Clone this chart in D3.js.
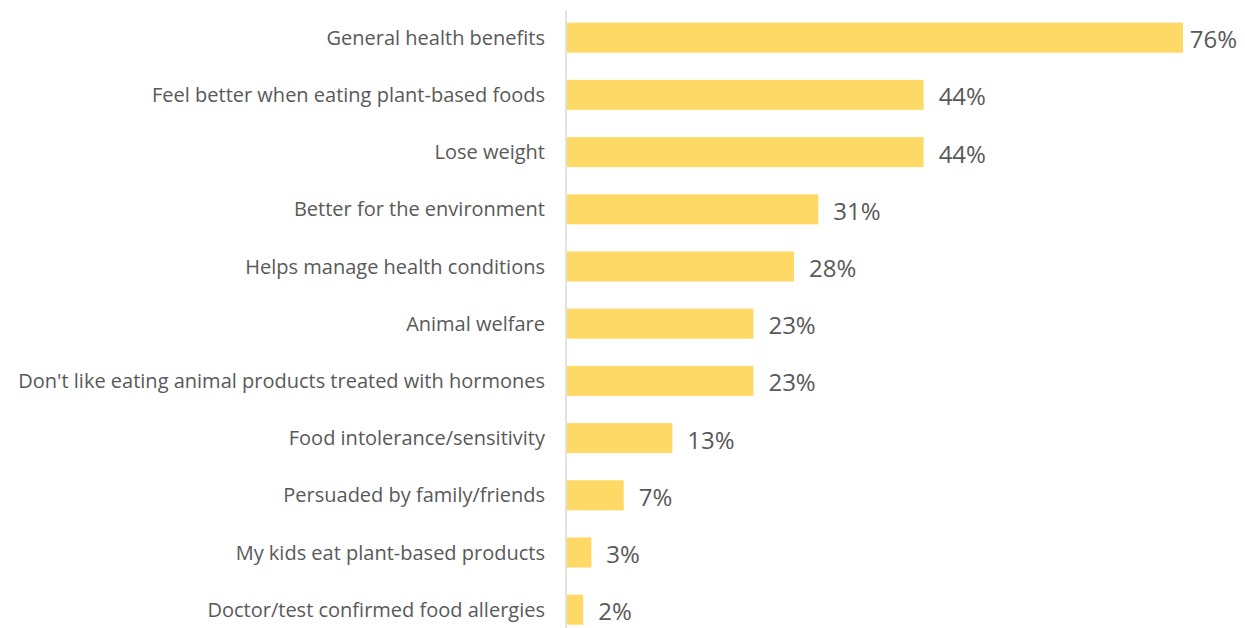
<!doctype html>
<html>
<head>
	<meta charset="UTF-8">
	<script src="https://d3js.org/d3.v7.min.js"></script>
	<style>
		body { margin: 0; background: #fff; }
	</style>
</head>
<body>
	<script>
		// reasons for eating plant-based foods
		var reasons = [
			"General health benefits",
			"Feel better when eating plant-based foods",
			"Lose weight",
			"Better for the environment",
			"Helps manage health conditions",
			"Animal welfare",
			"Don't like eating animal products treated with hormones",
			"Food intolerance/sensitivity",
			"Persuaded by family/friends",
			"My kids eat plant-based products",
			"Doctor/test confirmed food allergies"
		];
		var shares = [76, 44, 44, 31, 28, 23, 23, 13, 7, 3, 2];

		var width = 1245, height = 628;
		var axisX = 566;

		var svg = d3.select("body")
					.append("svg")
						.attr("width", width)
						.attr("height", height);

		var x = d3.scaleLinear()
					.domain([0, 76])
					.range([axisX + 1, 1183]);

		var y = d3.scaleBand()
					.domain(reasons)
					.range([9.1, 638.3])
					.paddingInner(0.475)
					.paddingOuter(0.2375);

		// bars
		svg.selectAll("rect.bar")
			.data(shares)
			.enter()
			.append("rect")
				.attr("class", "bar")
				.attr("x", x(0))
				.attr("y", function(d, i) { return y(reasons[i]); })
				.attr("width", function(d) { return x(d) - x(0); })
				.attr("height", y.bandwidth())
				.attr("fill", "#ffd966");

		// vertical axis line
		svg.append("line")
			.attr("x1", axisX)
			.attr("x2", axisX)
			.attr("y1", 10)
			.attr("y2", height)
			.attr("stroke", "#d9d9d9")
			.attr("stroke-width", 1.5);

		// category labels
		svg.selectAll("text.cat")
			.data(reasons)
			.enter()
			.append("text")
				.attr("class", "cat")
				.attr("x", 545)
				.attr("y", function(d) { return y(d) + y.bandwidth() / 2; })
				.attr("dy", "0.35em")
				.attr("text-anchor", "end")
				.attr("font-family", "Open Sans, sans-serif")
				.attr("font-size", 20)
				.attr("fill", "#595959")
				.text(function(d) { return d; });

		// value labels, pulled back in if they would run off the right edge
		svg.selectAll("text.val")
			.data(shares)
			.enter()
			.append("text")
				.attr("class", "val")
				.attr("y", function(d, i) { return y(reasons[i]) + y.bandwidth() / 2 + 2; })
				.attr("dy", "0.35em")
				.attr("font-family", "Open Sans, sans-serif")
				.attr("font-size", 24)
				.attr("fill", "#595959")
				.text(function(d) { return d + "%"; })
				.attr("x", function(d) {
					var w = this.getComputedTextLength();
					return Math.min(x(d) + 15, width - 8 - w);
				});
	</script>
</body>
</html>
